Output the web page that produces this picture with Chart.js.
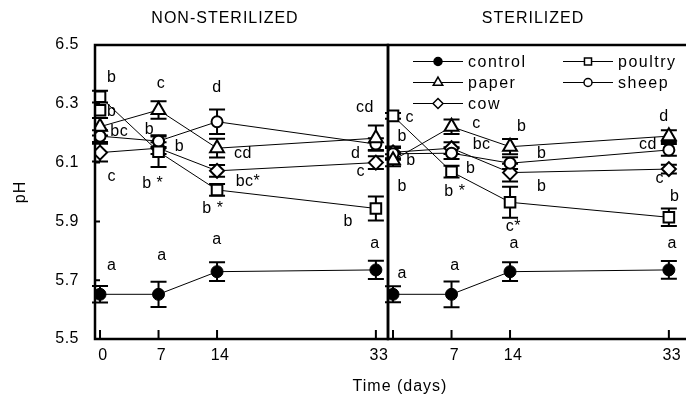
<!DOCTYPE html>
<html>
<head>
<meta charset="utf-8">
<script src="https://cdn.jsdelivr.net/npm/chart.js@4"></script>
<style>
  body { margin: 0; background: #fff; }
  #wrap { position: relative; width: 686px; height: 400px; overflow: hidden;
          font-family: "Liberation Sans", Arial, sans-serif; letter-spacing: 1px; color: #000; }
  canvas { position: absolute; top: 0; }
  .txt { position: absolute; font-size: 16px; line-height: 18px; white-space: nowrap; text-align: center; }
</style>
</head>
<body>
<div id="wrap">
  <canvas id="left" width="390" height="400" style="left:0"></canvas>
  <canvas id="right" width="306" height="400" style="left:380px"></canvas>
  <div class="txt" style="left:125px;top:9px;width:200px">NON-STERILIZED</div>
  <div class="txt" style="left:433px;top:9px;width:200px">STERILIZED</div>
  <div class="txt" style="left:0;top:183px;width:40px;transform:rotate(-90deg)">pH</div>
  <div class="txt" style="left:300px;top:377px;width:200px">Time (days)</div>
</div>
<script>
// sampling days and tick labels
const days = [0, 7, 14, 33];
const dayTicks = [0, 7, 14, 33];
const pHTicks = [5.5, 5.7, 5.9, 6.1, 6.3, 6.5];
const seriesNames = ['control', 'poultry', 'paper', 'sheep', 'cow'];

// NON-STERILIZED (mean pH and error)
const nsControl = [5.652, 5.652, 5.729, 5.735];
const nsControlErr = [0.028, 0.043, 0.032, 0.031];
const nsPoultry = [6.324, 6.137, 6.007, 5.944];
const nsPoultryErr = [0.02, 0.052, 0.02, 0.041];
const nsPoultrySecond = [6.278];   // second square drawn at day 0
const nsPaper = [6.222, 6.279, 6.149, 6.183];
const nsPaperErr = [0.03, 0.03, 0.032, 0.043];
const nsSheep = [6.19, 6.173, 6.239, 6.163];
const nsSheepErr = [0.02, 0.02, 0.042, 0.02];
const nsCow = [6.134, 6.149, 6.072, 6.1];
const nsCowErr = [0.03, 0.02, 0.02, 0.022];

// STERILIZED
const sControl = [5.652, 5.652, 5.729, 5.735];
const sControlErr = [0.027, 0.044, 0.032, 0.03];
const sPoultry = [6.259, 6.069, 5.965, 5.914];
const sPoultryErr = [0.01, 0.02, 0.053, 0.03];
const sPaper = [6.108, 6.222, 6.154, 6.19];
const sPaperErr = [0.02, 0.025, 0.026, 0.02];
const sSheep = [6.13, 6.132, 6.098, 6.143];
const sSheepErr = [0.02, 0.02, 0.02, 0.02];
const sCow = [6.135, 6.149, 6.066, 6.078];
const sCowErr = [0.02, 0.02, 0.03, 0.015];

// significance letters [day, pH, text]
const nsLetters = [
  [1.4, 6.389, 'b'], [7.3, 6.37, 'c'], [14, 6.356, 'd'],
  [1.4, 6.273, 'b'], [2.3, 6.205, 'bc'], [5.9, 6.213, 'b'], [9.5, 6.154, 'b'],
  [1.4, 6.052, 'c'], [6.3, 6.027, 'b *'], [17.1, 6.131, 'cd'], [17.7, 6.037, 'bc*'],
  [13.5, 5.944, 'b *'], [31.7, 6.288, 'cd'], [30.6, 6.131, 'd'], [31.2, 6.071, 'c'],
  [29.7, 5.899, 'b'],
  [1.4, 5.748, 'a'], [7.4, 5.782, 'a'], [14, 5.839, 'a'], [32.9, 5.826, 'a']
];
const sLetters = [
  [2.0, 6.254, 'c'], [1.1, 6.188, 'b'], [2.15, 6.106, 'b'], [1.1, 6.018, 'b'],
  [10.0, 6.234, 'c'], [10.6, 6.16, 'bc'], [9.3, 6.081, 'b'], [7.4, 6.001, 'b *'],
  [15.4, 6.222, 'b'], [17.8, 6.131, 'b'], [17.8, 6.018, 'b'], [14.4, 5.882, 'c*'],
  [14.5, 5.826, 'a'], [1.1, 5.723, 'a'], [7.4, 5.748, 'a'], [33.4, 5.826, 'a'],
  [32.4, 6.256, 'd'], [30.5, 6.16, 'cd'], [31.9, 6.047, 'c'], [33.7, 5.986, 'b']
];

const FONT = '"Liberation Sans", Arial, sans-serif';

const styles = {
  control: { pointStyle: 'circle', pointRadius: 6, pointBackgroundColor: '#000', pointBorderWidth: 1 },
  poultry: { pointStyle: 'rect', pointRadius: 7.5 },
  paper:   { pointStyle: 'triangle', pointRadius: 8 },
  sheep:   { pointStyle: 'circle', pointRadius: 5.5 },
  cow:     { pointStyle: 'rectRot', pointRadius: 7 }
};

function series(name, vals, errs, x) {
  return Object.assign({
    label: name,
    data: (x || days).map((d, i) => ({ x: d, y: vals[i] })),
    errors: errs,
    borderColor: '#000', borderWidth: 1,
    pointBorderColor: '#000', pointBorderWidth: 2,
    pointBackgroundColor: '#fff', pointHoverRadius: 0,
    fill: false, tension: 0
  }, styles[name]);
}

// letter spacing for canvas text
const spacing = {
  id: 'spacing',
  beforeLayout(chart) { chart.ctx.letterSpacing = '0.5px'; },
  beforeDraw(chart) { chart.ctx.letterSpacing = '0.5px'; }
};

const errorBars = {
  id: 'errorBars',
  beforeDatasetsDraw(chart) {
    const ctx = chart.ctx, xs = chart.scales.x, ys = chart.scales.y;
    ctx.save();
    ctx.strokeStyle = '#000';
    ctx.lineWidth = 2;
    chart.data.datasets.forEach(ds => {
      if (!ds.errors) return;
      ds.data.forEach((p, i) => {
        const e = ds.errors[i];
        if (!e) return;
        const x = xs.getPixelForValue(p.x);
        const y1 = ys.getPixelForValue(p.y + e), y2 = ys.getPixelForValue(p.y - e);
        ctx.beginPath();
        ctx.moveTo(x, y1); ctx.lineTo(x, y2);
        ctx.moveTo(x - 8, y1); ctx.lineTo(x + 8, y1);
        ctx.moveTo(x - 8, y2); ctx.lineTo(x + 8, y2);
        ctx.stroke();
      });
    });
    ctx.restore();
  }
};

const frame = {
  id: 'frame',
  afterDraw(chart, args, opts) {
    const ctx = chart.ctx, a = chart.chartArea, xs = chart.scales.x, ys = chart.scales.y;
    ctx.save();
    ctx.strokeStyle = '#000';
    ctx.lineWidth = 2;
    ctx.beginPath();
    // inward ticks
    xs.ticks.forEach(t => {
      const x = xs.getPixelForValue(t.value);
      ctx.moveTo(x, a.bottom); ctx.lineTo(x, a.bottom - 9);
    });
    if (opts.yTicks) {
      ys.ticks.forEach(t => {
        const y = ys.getPixelForValue(t.value);
        ctx.moveTo(a.left, y); ctx.lineTo(a.left + 5, y);
      });
    }
    ctx.stroke();
    ctx.lineWidth = 2.5;
    ctx.beginPath();
    ctx.moveTo(a.right + 1, a.top); ctx.lineTo(a.left, a.top);
    ctx.lineTo(a.left, a.bottom); ctx.lineTo(a.right + 1, a.bottom);
    if (opts.closeRight) {
      ctx.moveTo(a.right, a.top); ctx.lineTo(a.right, a.bottom);
    }
    ctx.stroke();
    ctx.restore();
  }
};

const letters = {
  id: 'letters',
  afterDatasetsDraw(chart, args, opts) {
    const ctx = chart.ctx, xs = chart.scales.x, ys = chart.scales.y;
    ctx.save();
    ctx.font = '16px ' + FONT;
    ctx.letterSpacing = '0.5px';
    ctx.fillStyle = '#000';
    ctx.textAlign = 'center';
    ctx.textBaseline = 'middle';
    (opts.items || []).forEach(([d, v, s]) => {
      ctx.fillText(s, xs.getPixelForValue(d), ys.getPixelForValue(v));
    });
    ctx.restore();
  }
};

const boxLegend = {
  id: 'boxLegend',
  afterDraw(chart, args, opts) {
    if (!opts.show) return;
    const ctx = chart.ctx, a = chart.chartArea;
    const small = { control: 4, poultry: 5, paper: 5.5, sheep: 4, cow: 5 };
    ctx.save();
    ctx.font = '16px ' + FONT;
    ctx.letterSpacing = '1.5px';
    ctx.textBaseline = 'middle';
    ctx.strokeStyle = '#000';
    seriesNames.forEach((name, i) => {
      const col = i % 2, row = Math.floor(i / 2);
      const x = Math.round(a.left + 25 + col * 150);
      const y = Math.round(a.top + 16 + row * 21) + 0.5;
      ctx.lineWidth = 1;
      ctx.beginPath();
      ctx.moveTo(x, y); ctx.lineTo(x + 50, y);
      ctx.stroke();
      ctx.lineWidth = 1.5;
      ctx.fillStyle = name === 'control' ? '#000' : '#fff';
      Chart.helpers.drawPoint(ctx, { pointStyle: styles[name].pointStyle, radius: small[name], borderWidth: 1.5, rotation: 0 }, x + 25, y);
      ctx.fillStyle = '#000';
      ctx.fillText(name, x + 55, y + 1);
    });
    ctx.restore();
  }
};

function makeChart(id, datasets, items, side) {
  const isLeft = side === 'left';
  return new Chart(document.getElementById(id), {
    type: 'line',
    data: { datasets: datasets },
    plugins: [spacing, errorBars, frame, letters, boxLegend],
    options: {
      responsive: false,
      animation: false,
      events: [],
      layout: {
        autoPadding: false,
        padding: isLeft ? { top: 45, right: 2, left: 0, bottom: 0 } : { top: 45, right: 0, left: 8, bottom: 0 }
      },
      plugins: {
        legend: { display: false },
        tooltip: { enabled: false },
        frame: { yTicks: isLeft, closeRight: isLeft },
        letters: { items: items },
        boxLegend: { show: !isLeft }
      },
      scales: {
        x: {
          type: 'linear',
          min: -0.6,
          max: isLeft ? 34.45 : 35.05,
          afterBuildTicks: s => { s.ticks = dayTicks.map(v => ({ value: v })); },
          afterFit: s => { s.height = 61; s.paddingLeft = 0; s.paddingRight = 0; },
          grid: { display: false, drawTicks: false },
          border: { display: false },
          ticks: {
            color: '#000', font: { family: FONT, size: 16 }, padding: 7, labelOffset: 3,
            maxRotation: 0, autoSkip: false,
            callback: v => (!isLeft && v === 0) ? '' : String(v)
          }
        },
        y: {
          display: isLeft,
          min: 5.5,
          max: 6.5,
          afterBuildTicks: s => { s.ticks = pHTicks.map(v => ({ value: v })); },
          afterFit: s => { s.width = isLeft ? 95 : 0; s.paddingTop = 0; s.paddingBottom = 0; },
          grid: { display: false, drawTicks: false },
          border: { display: false },
          ticks: {
            color: '#000', font: { family: FONT, size: 16 }, padding: 16,
            callback: v => Number(v).toFixed(1)
          }
        }
      }
    }
  });
}

const secondSquare = series('poultry', nsPoultrySecond, null, [0]);
secondSquare.showLine = false;
secondSquare.label = 'poultry second';

makeChart('left', [
  series('control', nsControl, nsControlErr),
  series('poultry', nsPoultry, nsPoultryErr),
  secondSquare,
  series('paper', nsPaper, nsPaperErr),
  series('sheep', nsSheep, nsSheepErr),
  series('cow', nsCow, nsCowErr)
], nsLetters, 'left');

makeChart('right', [
  series('control', sControl, sControlErr),
  series('poultry', sPoultry, sPoultryErr),
  series('paper', sPaper, sPaperErr),
  series('sheep', sSheep, sSheepErr),
  series('cow', sCow, sCowErr)
], sLetters, 'right');
</script>
</body>
</html>
